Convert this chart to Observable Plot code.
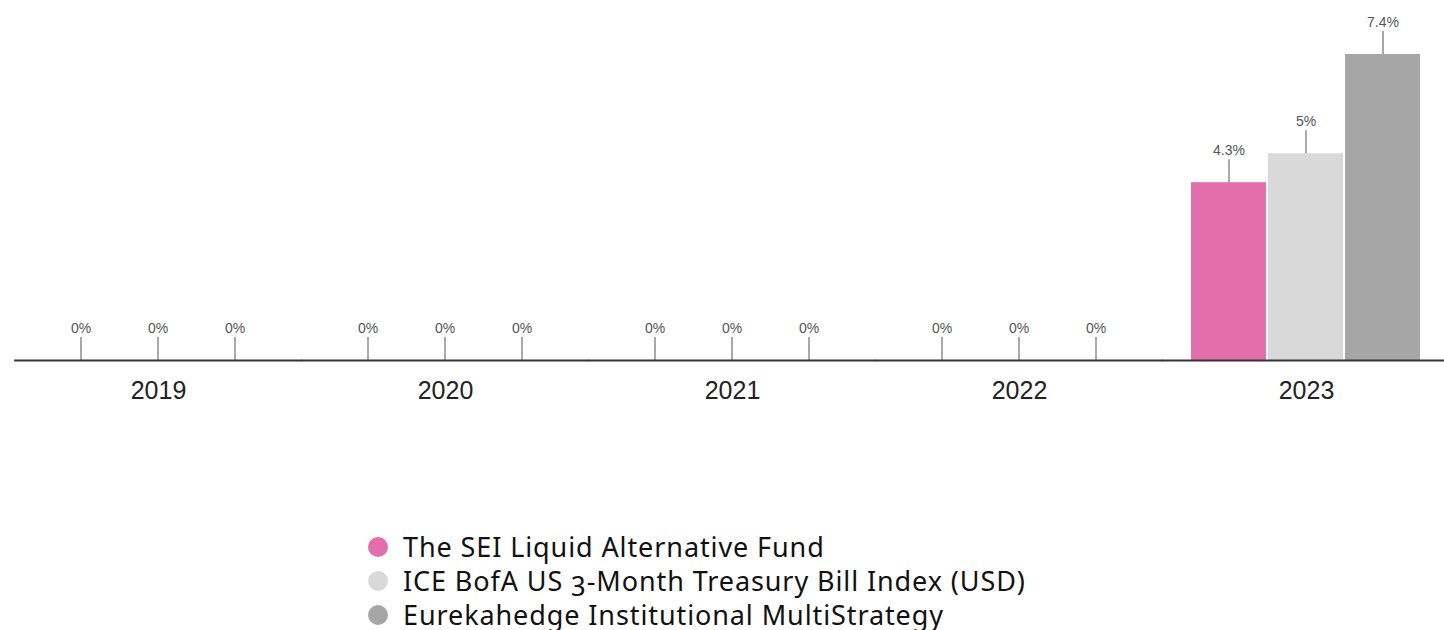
<!DOCTYPE html>
<html><head><meta charset="utf-8">
<script src="https://cdn.jsdelivr.net/npm/d3@7"></script>
<script src="https://cdn.jsdelivr.net/npm/@observablehq/plot@0.6"></script>
<style>
body{margin:0;background:#fff;}
#wrap{position:relative;width:1444px;height:630px;overflow:hidden;}
#legend{position:absolute;top:530px;left:368px;font-family:"Noto Sans","Open Sans",sans-serif;font-size:27px;letter-spacing:0.9px;color:#111;font-variant-numeric:oldstyle-nums;}
.row{display:flex;align-items:center;height:34px;line-height:34px;white-space:nowrap;}
.sw{width:20px;height:20px;border-radius:50%;margin-right:15px;flex:none;}
</style></head>
<body><div id="wrap"><div id="chart"></div><div id="legend"></div></div>
<script>
const years = ["2019", "2020", "2021", "2022", "2023"];
const series = ["The SEI Liquid Alternative Fund", "ICE BofA US 3-Month Treasury Bill Index (USD)", "Eurekahedge Institutional MultiStrategy"];
const colors = ["#e26fab", "#d9d9d9", "#a6a6a6"];
const seiValues = [0, 0, 0, 0, 4.3];
const iceValues = [0, 0, 0, 0, 5];
const eurekaValues = [0, 0, 0, 0, 7.4];

const valueSets = [seiValues, iceValues, eurekaValues];
const data = [];
years.forEach((yr, i) => series.forEach((s, j) => data.push({year: yr, series: s, value: valueSets[j][i]})));

const chart = Plot.plot({
  width: 1444, height: 530,
  marginTop: 54, marginBottom: 170, marginLeft: 12, marginRight: 0,
  style: {fontFamily: "'Liberation Sans', Arial, sans-serif", fontSize: "25px", color: "#222", background: "#fff"},
  fx: {domain: years, paddingInner: 0.2, paddingOuter: 0.0926, align: 0.57, tickSize: 0, tickPadding: 21, label: null},
  x: {domain: series, paddingInner: 0.02, paddingOuter: 0, axis: null},
  y: {domain: [0, 7.4], axis: null},
  color: {domain: series, range: colors},
  marks: [
    Plot.barY(data, {fx: "year", x: "series", y: "value", fill: "series"}),
    Plot.ruleX(data, {fx: "year", x: "series", y1: "value", y2: "value", insetTop: -23, stroke: "#8c8c8c", strokeWidth: 1.5}),
    Plot.text(data, {fx: "year", x: "series", y: "value", text: d => d.value + "%", dy: -32, fontSize: 14, fill: "#555"}),
    Plot.ruleY([0], {insetLeft: -28.8, insetRight: -28.8, stroke: "#333", strokeWidth: 2})
  ]
});
document.getElementById("chart").appendChild(chart);

const legend = document.getElementById("legend");
series.forEach((s, j) => {
  const row = document.createElement("div");
  row.className = "row";
  const sw = document.createElement("span");
  sw.className = "sw";
  sw.style.background = colors[j];
  const t = document.createElement("span");
  t.textContent = s;
  row.appendChild(sw); row.appendChild(t);
  legend.appendChild(row);
});
</script>
</body></html>
